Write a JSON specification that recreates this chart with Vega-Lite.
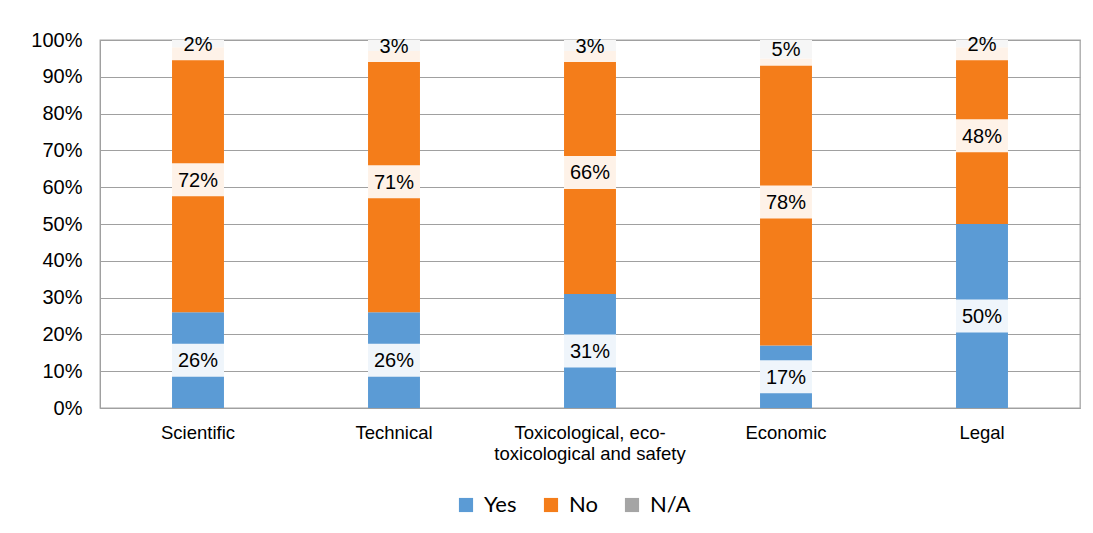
{
  "$schema": "https://vega.github.io/schema/vega-lite/v6.json",
  "width": 980,
  "height": 368,
  "autosize": {"type": "none"},
  "padding": {"left": 100, "top": 40, "right": 13, "bottom": 125},
  "background": "white",
  "config": {
    "view": {"stroke": "#A6A6A6", "strokeWidth": 1.3},
    "axis": {"labelFont": "Liberation Sans", "labelColor": "#000000", "gridColor": "#A0A0A0", "domainColor": "#A0A0A0", "tickColor": "#A0A0A0"},
    "axisY": {"values": [0, 0.1, 0.2, 0.3, 0.4, 0.5, 0.6, 0.7, 0.8, 0.9, 1], "labelOverlap": false, "labelFontSize": 20, "labelPadding": 18, "ticks": false, "grid": true, "format": ".0%", "title": null}
  },
  "data": {
    "values": [
      {"category": "Scientific", "response": "Yes", "value": 0.26, "order": 1},
      {"category": "Scientific", "response": "No", "value": 0.72, "order": 2},
      {"category": "Scientific", "response": "N/A", "value": 0.02, "order": 3},
      {"category": "Technical", "response": "Yes", "value": 0.26, "order": 1},
      {"category": "Technical", "response": "No", "value": 0.71, "order": 2},
      {"category": "Technical", "response": "N/A", "value": 0.03, "order": 3},
      {"category": "Toxicological, eco-toxicological and safety", "response": "Yes", "value": 0.31, "order": 1},
      {"category": "Toxicological, eco-toxicological and safety", "response": "No", "value": 0.66, "order": 2},
      {"category": "Toxicological, eco-toxicological and safety", "response": "N/A", "value": 0.03, "order": 3},
      {"category": "Economic", "response": "Yes", "value": 0.17, "order": 1},
      {"category": "Economic", "response": "No", "value": 0.78, "order": 2},
      {"category": "Economic", "response": "N/A", "value": 0.05, "order": 3},
      {"category": "Legal", "response": "Yes", "value": 0.50, "order": 1},
      {"category": "Legal", "response": "No", "value": 0.48, "order": 2},
      {"category": "Legal", "response": "N/A", "value": 0.02, "order": 3}
    ]
  },
  "transform": [
    {"stack": "value", "groupby": ["category"], "sort": [{"field": "order", "order": "ascending"}], "as": ["v0", "v1"]},
    {"calculate": "(datum.v0 + datum.v1) / 2", "as": "mid"}
  ],
  "encoding": {
    "x": {
      "field": "category",
      "type": "nominal",
      "sort": ["Scientific", "Technical", "Toxicological, eco-toxicological and safety", "Economic", "Legal"],
      "scale": {"paddingInner": 0.735, "paddingOuter": 0.3675},
      "axis": {
        "title": null,
        "labelAngle": 0,
        "labelFontSize": 18.5,
        "labelPadding": 15,
        "ticks": false,
        "labelLimit": 300,
        "labelLineHeight": 21,
        "labelOverlap": false,
        "labelExpr": "datum.label == 'Toxicological, eco-toxicological and safety' ? ['Toxicological, eco-', 'toxicological and safety'] : datum.label"
      }
    }
  },
  "layer": [
    {
      "mark": {"type": "bar"},
      "encoding": {
        "y": {
          "field": "v0",
          "type": "quantitative",
          "scale": {"domain": [0, 1], "nice": false}
        },
        "y2": {"field": "v1"},
        "color": {
          "field": "response",
          "type": "nominal",
          "scale": {"domain": ["Yes", "No", "N/A"], "range": ["#5B9BD5", "#F47D1A", "#A5A5A5"]},
          "legend": {
            "title": null,
            "orient": "none",
            "direction": "horizontal",
            "legendX": 355,
            "legendY": 454,
            "symbolType": "square",
            "symbolSize": 200,
            "symbolStrokeWidth": 0,
            "labelFont": "Lato",
            "labelFontSize": 22,
            "labelOffset": 7,
            "columnPadding": 23
          }
        }
      }
    },
    {
      "mark": {"type": "point", "shape": "M-1,-0.635H1V0.635H-1Z", "filled": true, "color": "white", "opacity": 0.9, "size": 2704, "clip": true},
      "encoding": {
        "y": {"field": "mid", "type": "quantitative"}
      }
    },
    {
      "mark": {"type": "text", "font": "Liberation Sans", "fontSize": 20, "color": "#000000", "baseline": "middle", "dy": 1},
      "encoding": {
        "y": {"field": "mid", "type": "quantitative"},
        "text": {"field": "value", "type": "quantitative", "format": ".0%"}
      }
    }
  ]
}
